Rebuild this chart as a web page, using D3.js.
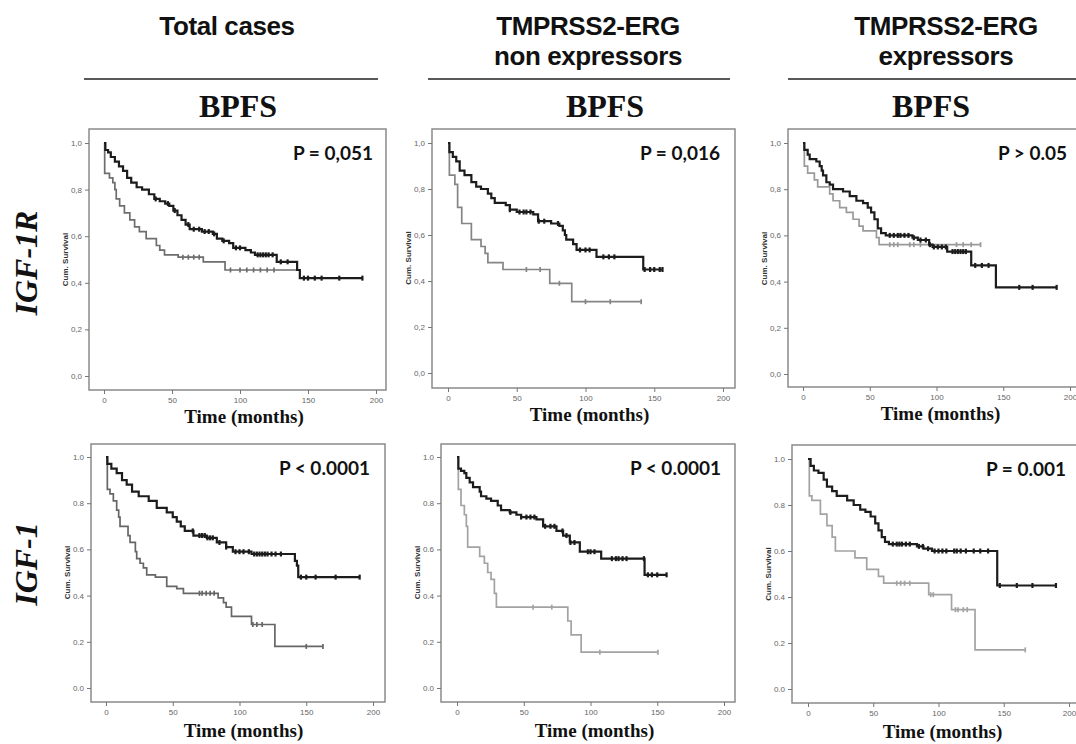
<!DOCTYPE html>
<html>
<head>
<meta charset="utf-8">
<script src="https://cdn.jsdelivr.net/npm/d3@7"></script>
<style>
body { margin: 0; background: #fff; }
svg { display: block; }
</style>
</head>
<body>
<svg id="chart"></svg>
<script>
// titles and labels
var columnTitles = [["Total cases"], ["TMPRSS2-ERG", "non expressors"], ["TMPRSS2-ERG", "expressors"]];
var sectionTitle = "BPFS";
var rowLabels = ["IGF-1R", "IGF-1"];
var pValues = ["P = 0,051", "P = 0,016", "P > 0.05", "P < 0.0001", "P < 0.0001", "P = 0.001"];
var xTicks = [0, 50, 100, 150, 200];
var yTicks = [0, 0.2, 0.4, 0.6, 0.8, 1.0];

// Kaplan-Meier steps: [time, survival after step]
// IGF-1R / total cases
var r1cHigh = [[0,1],[1,0.97],[3,0.96],[5,0.94],[8,0.92],[11,0.90],[14,0.88],[17,0.85],[20,0.83],[24,0.81],[28,0.80],[33,0.78],[37,0.76],[41,0.75],[45,0.74],[48,0.73],[51,0.71],[54,0.69],[57,0.67],[60,0.65],[63,0.63],[72,0.62],[80,0.61],[83,0.59],[87,0.58],[92,0.57],[95,0.55],[104,0.54],[108,0.53],[111,0.52],[127,0.49],[142,0.455],[144,0.42]];
var r1cHighEnd = 190;
var r1cHighCens = [38,47,52,62,66,70,74,77,81,88,97,100,113,115,117,119,121,124,130,135,147,150,155,160,173,190];
var r1cLow = [[0,1],[0.5,0.87],[4,0.85],[6.5,0.83],[8,0.80],[9,0.76],[11.5,0.73],[15,0.70],[19,0.67],[22.5,0.64],[26,0.62],[31,0.59],[38.5,0.56],[41,0.54],[44.5,0.52],[54.5,0.51],[73,0.49],[89,0.455]];
var r1cLowEnd = 142;
var r1cLowCens = [58,62,66,70,93,100,105,110,115,120,125];

// IGF-1R / non expressors
var r2cHigh = [[0,1],[1,0.96],[3.5,0.94],[6,0.92],[8.5,0.88],[12,0.86],[17,0.83],[20.5,0.81],[24,0.80],[29,0.78],[31.5,0.76],[34,0.74],[42,0.73],[45,0.71],[50,0.70],[62,0.69],[65.5,0.66],[75,0.65],[81,0.64],[83.5,0.62],[85,0.60],[86,0.58],[91,0.56],[93.5,0.535],[108,0.505],[142,0.45]];
var r2cHighEnd = 156;
var r2cHighCens = [45,52,55,57,60,66,70,80,96,100,103,113,117,121,143,147,150,154,156];
var r2cLow = [[0,1],[1,0.86],[5,0.82],[7,0.72],[10,0.65],[17,0.58],[24,0.55],[27,0.52],[29,0.48],[40,0.45],[74,0.39],[90,0.31]];
var r2cLowEnd = 140.5;
var r2cLowCens = [57,67,81,100,118,140.5];

// IGF-1R / expressors
var r3cHigh = [[0,1],[1,0.97],[3.5,0.95],[5,0.93],[10,0.92],[12.5,0.90],[14,0.88],[15,0.86],[17.5,0.83],[20,0.82],[22.5,0.80],[30,0.79],[35,0.77],[40,0.75],[45,0.74],[48.5,0.72],[51,0.70],[53.5,0.67],[56,0.63],[58.5,0.61],[62,0.60],[82,0.59],[86,0.58],[94.5,0.56],[97,0.55],[108,0.53],[126,0.47],[144.5,0.375]];
var r3cHighEnd = 190;
var r3cHighCens = [65,68,71,73,76,79,83,88,92,95,98,101,104,107,112,114,116,118,120,122,129,134,139,162,172,190];
var r3cLow = [[0,1],[1,0.90],[3.5,0.87],[8.5,0.84],[11,0.81],[20,0.78],[22.5,0.75],[27.5,0.72],[32.5,0.70],[37.5,0.67],[42,0.64],[45,0.62],[55,0.59],[57,0.56]];
var r3cLowEnd = 133;
var r3cLowCens = [65,68,71,80,83,88,115,120,126,133];

// IGF-1 / total cases
var s1cHigh = [[0,1],[1,0.97],[4,0.95],[8,0.93],[12,0.90],[15.5,0.88],[19.5,0.85],[24.5,0.83],[32,0.81],[38,0.78],[45.5,0.76],[50,0.74],[53,0.72],[56,0.70],[59,0.68],[65.5,0.66],[75.5,0.65],[83,0.63],[90,0.61],[95,0.59],[109,0.58],[141.5,0.55],[143,0.53],[144,0.48]];
var s1cHighEnd = 190;
var s1cHighCens = [65,70,72,74,76,78,80,85,90,97,100,103,107,111,113,115,117,119,121,124,127,131,146,150,157,172,190];
var s1cLow = [[0,1],[1,0.86],[3,0.84],[5.5,0.81],[8,0.77],[9.5,0.74],[10.5,0.70],[16.5,0.66],[18,0.63],[22,0.59],[23,0.56],[25.5,0.54],[28,0.52],[30.5,0.49],[37,0.48],[45.5,0.44],[53,0.43],[58,0.41],[84,0.39],[88,0.37],[90,0.35],[94,0.31],[109,0.275],[126.5,0.18]];
var s1cLowEnd = 162.5;
var s1cLowCens = [70,72,75,78,81,110,113,117,150,162.5];

// IGF-1 / non expressors
var s2cHigh = [[0,1],[1,0.95],[3,0.94],[5.5,0.93],[7,0.91],[9.5,0.89],[12,0.87],[17,0.85],[18,0.83],[22,0.82],[25.5,0.81],[30.5,0.79],[33,0.77],[39.5,0.76],[44.5,0.75],[48,0.74],[59.5,0.73],[64.5,0.70],[74.5,0.68],[79.5,0.66],[84.5,0.63],[92,0.59],[108,0.56],[140.5,0.49]];
var s2cHighEnd = 157;
var s2cHighCens = [40,48,52,55,58,66,70,73,79,82,85,88,98,100,103,116,119,121,124,127,140,143,146,150,157];
var s2cLow = [[0,1],[1,0.86],[3,0.79],[5.5,0.75],[7,0.70],[8,0.61],[17,0.57],[20.5,0.54],[23,0.50],[25.5,0.47],[28,0.41],[29.5,0.35],[83,0.29],[85.5,0.23],[93,0.155]];
var s2cLowEnd = 150.5;
var s2cLowCens = [57,71,107,150.5];

// IGF-1 / expressors
var s3cHigh = [[0,1],[2,0.97],[4.5,0.95],[8,0.94],[12,0.91],[14.5,0.88],[18.5,0.86],[22,0.84],[30,0.82],[35,0.80],[40,0.78],[44,0.77],[48,0.75],[51.5,0.72],[54,0.69],[56.5,0.66],[59,0.64],[62,0.63],[83.5,0.62],[88.5,0.61],[95,0.60],[145,0.45]];
var s3cHighEnd = 190;
var s3cHighCens = [65,68,70,72,75,78,85,88,92,97,100,103,106,112,114,117,121,127,132,138,147,160,172,190];
var s3cLow = [[0,1],[1,0.84],[3,0.82],[9.5,0.76],[14.5,0.71],[18.5,0.66],[21,0.60],[36,0.57],[45,0.52],[54,0.49],[58,0.46],[92.5,0.41],[110,0.345],[128,0.17]];
var s3cLowEnd = 166.5;
var s3cLowCens = [68,71,74,78,94,96,113,115,119,122,166.5];

var panelCurves = [
    {high: [r1cHigh, r1cHighEnd, r1cHighCens], low: [r1cLow, r1cLowEnd, r1cLowCens]},
    {high: [r2cHigh, r2cHighEnd, r2cHighCens], low: [r2cLow, r2cLowEnd, r2cLowCens]},
    {high: [r3cHigh, r3cHighEnd, r3cHighCens], low: [r3cLow, r3cLowEnd, r3cLowCens]},
    {high: [s1cHigh, s1cHighEnd, s1cHighCens], low: [s1cLow, s1cLowEnd, s1cLowCens]},
    {high: [s2cHigh, s2cHighEnd, s2cHighCens], low: [s2cLow, s2cLowEnd, s2cLowCens]},
    {high: [s3cHigh, s3cHighEnd, s3cHighCens], low: [s3cLow, s3cLowEnd, s3cLowCens]}
];

// layout of each panel: frame [l,t,r,b], x range for 0..200, y range for 1..0
var panelBoxes = [
    {frame: [89,129,386,390], xr: [104,376], yr: [143,376], grey: "#6e6e6e"},
    {frame: [432,129,735,388], xr: [448,723], yr: [143,373], grey: "#858585"},
    {frame: [788,129,1090,387], xr: [803,1070], yr: [143,374], grey: "#9a9a9a"},
    {frame: [91,444,385,702], xr: [106,373], yr: [457,688], grey: "#666"},
    {frame: [441,444,735,702], xr: [457,724], yr: [457,688], grey: "#a3a3a3"},
    {frame: [792,445,1090,703], xr: [808,1069], yr: [459,689], grey: "#a3a3a3"}
];

var width = 1076, height = 744;
var svg = d3.select("#chart").attr("width", width).attr("height", height);
svg.append("rect").attr("width", width).attr("height", height).attr("fill", "#fff");

// column headers
var colCenters = [227, 588, 946];
var bpfsCenters = [238, 605, 931];
var ruleSpans = [[84,378], [428,730], [788,1080]];
columnTitles.forEach(function(lines, i) {
    lines.forEach(function(t, j) {
        svg.append("text")
            .attr("x", colCenters[i]).attr("y", 35 + j * 30)
            .attr("text-anchor", "middle")
            .style("font-family", "Liberation Sans, Arial, sans-serif")
            .style("font-weight", "bold").style("font-size", "26px")
            .style("letter-spacing", "-0.4px")
            .style("fill", "#111")
            .text(t);
    });
    svg.append("line")
        .attr("x1", ruleSpans[i][0]).attr("x2", ruleSpans[i][1])
        .attr("y1", 79).attr("y2", 79)
        .attr("stroke", "#222").attr("stroke-width", 1.5);
    svg.append("text")
        .attr("x", bpfsCenters[i]).attr("y", 117)
        .attr("text-anchor", "middle")
        .style("font-family", "Liberation Serif, Times New Roman, serif")
        .style("font-weight", "bold").style("font-size", "32px")
        .style("fill", "#111")
        .text(sectionTitle);
});

// row labels
var rowCenters = [263, 564];
rowLabels.forEach(function(t, i) {
    svg.append("text")
        .attr("transform", "translate(37," + rowCenters[i] + ") rotate(-90)")
        .attr("text-anchor", "middle")
        .style("font-family", "Liberation Serif, Times New Roman, serif")
        .style("font-weight", "bold").style("font-style", "italic")
        .style("font-size", "32px").style("fill", "#111")
        .text(t);
});

var fmtDot = d3.format(".1f");

panelBoxes.forEach(function(box, i) {
    var g = svg.append("g");
    var fr = box.frame;
    var x = d3.scaleLinear().domain([0, 200]).range(box.xr);
    var y = d3.scaleLinear().domain([1, 0]).range(box.yr);
    var topRow = i < 3;

    g.append("rect")
        .attr("x", fr[0]).attr("y", fr[1])
        .attr("width", fr[2] - fr[0]).attr("height", fr[3] - fr[1])
        .attr("fill", "none").attr("stroke", "#8a8a8a").attr("stroke-width", 1.5);

    // y axis on frame left
    var ya = g.append("g")
        .attr("transform", "translate(" + fr[0] + ",0)")
        .call(d3.axisLeft(y).tickValues(yTicks).tickSize(4).tickPadding(3)
            .tickFormat(function(d) { var s = fmtDot(d); return topRow ? s.replace(".", ",") : s; }));
    ya.select(".domain").remove();
    ya.selectAll("line").attr("stroke", "#777");
    ya.selectAll("text").style("font-family", "Liberation Sans, Arial, sans-serif")
        .style("font-size", "8px").style("fill", "#666");

    // x axis on frame bottom
    var xa = g.append("g")
        .attr("transform", "translate(0," + fr[3] + ")")
        .call(d3.axisBottom(x).tickValues(xTicks).tickSize(4).tickPadding(3));
    xa.select(".domain").remove();
    xa.selectAll("line").attr("stroke", "#777");
    xa.selectAll("text").style("font-family", "Liberation Sans, Arial, sans-serif")
        .style("font-size", "8px").style("fill", "#666");

    g.append("text")
        .attr("transform", "translate(" + (fr[0] - 21) + "," + ((box.yr[0] + box.yr[1]) / 2) + ") rotate(-90)")
        .attr("text-anchor", "middle")
        .style("font-family", "Liberation Sans, Arial, sans-serif")
        .style("font-weight", "bold").style("font-size", "8px").style("fill", "#333")
        .text("Cum. Survival");

    g.append("text")
        .attr("x", (x(0) + x(200)) / 2 + 4).attr("y", fr[3] + (topRow ? 33 : 35))
        .attr("text-anchor", "middle")
        .style("font-family", "Liberation Serif, Times New Roman, serif")
        .style("font-weight", "bold").style("font-size", "19px").style("fill", "#111")
        .text("Time (months)");

    g.append("text")
        .attr("x", x(200) - 3).attr("y", fr[1] + 31)
        .attr("text-anchor", "end")
        .style("font-family", "Lato, Open Sans, sans-serif")
        .style("font-weight", "bold").style("font-size", "19px").style("fill", "#111")
        .text(pValues[i]);

    var line = d3.line()
        .x(function(d) { return x(d[0]); })
        .y(function(d) { return y(d[1]); })
        .curve(d3.curveStepAfter);

    function drawCurve(c, color, w, tickH) {
        var steps = c[0], end = c[1], cens = c[2];
        var pts = steps.concat([[end, steps[steps.length - 1][1]]]);
        g.append("path").datum(pts)
            .attr("d", line)
            .attr("fill", "none").attr("stroke", color).attr("stroke-width", w);
        var bis = d3.bisector(function(d) { return d[0]; }).right;
        g.append("g").selectAll("line")
            .data(cens).enter().append("line")
            .attr("x1", function(t) { return x(t); })
            .attr("x2", function(t) { return x(t); })
            .attr("y1", function(t) { return y(steps[bis(steps, t) - 1][1]) - tickH; })
            .attr("y2", function(t) { return y(steps[bis(steps, t) - 1][1]) + tickH; })
            .attr("stroke", color).attr("stroke-width", w);
    }

    drawCurve(panelCurves[i].low, box.grey, 1.7, 2.5);
    drawCurve(panelCurves[i].high, "#1c1c1c", 2.2, 2.5);
});
</script>
</body>
</html>
